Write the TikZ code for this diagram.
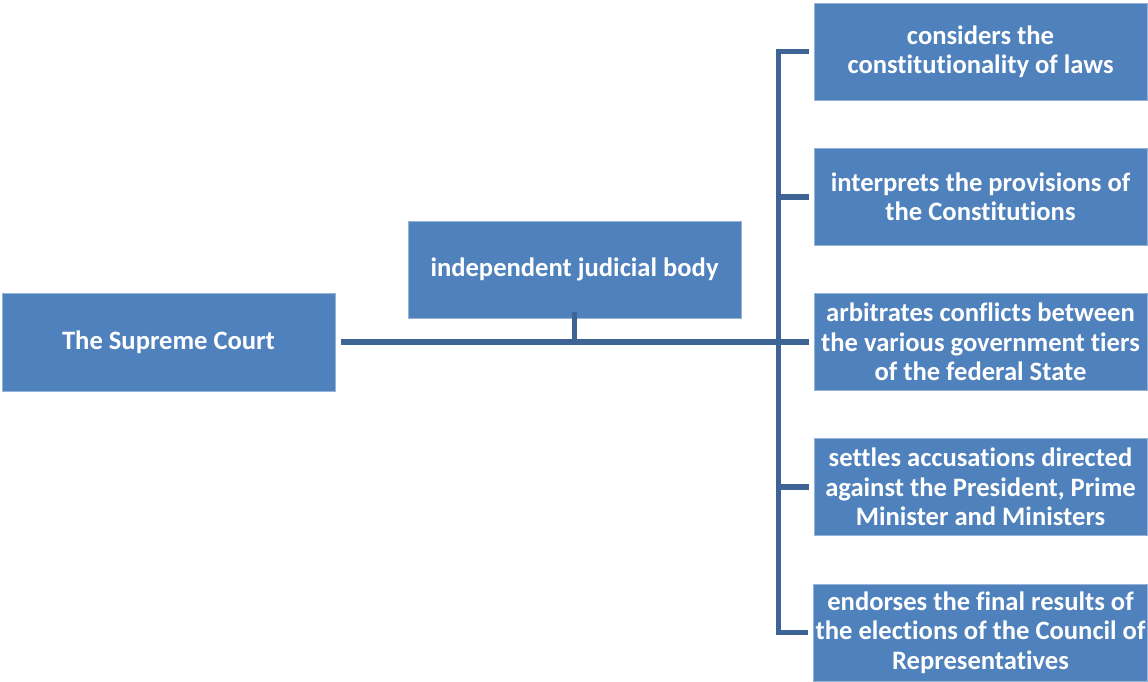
\documentclass[tikz,border=0pt]{standalone}
\usepackage{fontspec}
\setmainfont{Carlito}[Ligatures={NoCommon}]
\definecolor{boxblue}{RGB}{79,129,189}
\definecolor{boxedge}{RGB}{150,180,215}
\definecolor{linkblue}{RGB}{62,100,150}
\begin{document}
\begin{tikzpicture}[x=1pt,y=-1pt,
  box/.style={rectangle,fill=boxblue,draw=boxedge,line width=0.8pt,
    minimum width=333pt,minimum height=97pt,inner sep=2pt,
    text=white,align=center,font=\fontsize{26.6}{29.3}\selectfont\bfseries},
  link/.style={draw=linkblue,line width=5.5pt,line join=miter}]
\useasboundingbox (0,0) rectangle (1148,681);
\node[box,minimum height=98pt] (L) at (168.5,342) {The Supreme Court};
\node[box] (C) at (574.5,269.5) {independent judicial body};
\node[box] (R1) at (980.5,51.5) {considers the\\constitutionality of laws};
\node[box] (R2) at (980.5,197) {interprets the provisions of\\the Constitutions};
\node[box] (R3) at (980.5,342) {arbitrates conflicts between\\the various government tiers\\of the federal State};
\node[box] (R4) at (980.5,487) {settles accusations directed\\against the President, Prime\\Minister and Ministers};
\node[box] (R5) at (980.5,632.5) {endorses the final results of\\the elections of the Council of\\Representatives};
\coordinate (trunk) at (778.5,342);
\draw[link] ([xshift=6pt]L.east) -- (L.east -| trunk);
\draw[link] ([yshift=6pt]C.south) -- (C.south |- L.east);
\draw[link] ([xshift=-5pt]R1.west) -- (R1.west -| trunk) -- (R5.west -| trunk) -- ([xshift=-5pt]R5.west);
\draw[link] ([xshift=-5pt]R2.west) -- (R2.west -| trunk);
\draw[link] ([xshift=-5pt]R3.west) -- (R3.west -| trunk);
\draw[link] ([xshift=-5pt]R4.west) -- (R4.west -| trunk);
\end{tikzpicture}
\end{document}
